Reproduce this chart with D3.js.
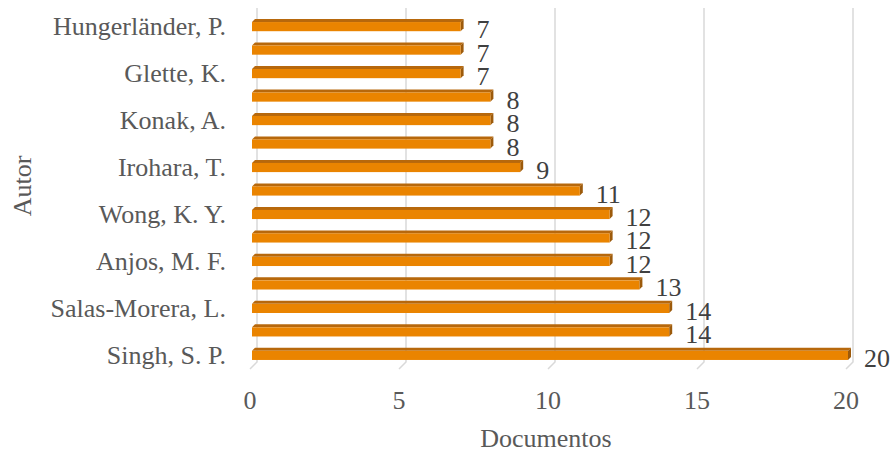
<!DOCTYPE html>
<html>
<head>
<meta charset="utf-8">
<script src="https://cdn.jsdelivr.net/npm/d3@7"></script>
<style>
  body { margin: 0; background: #fff; }
  svg text { font-family: "Liberation Serif", "Times New Roman", serif; }
</style>
</head>
<body>
<svg id="chart" width="894" height="454"></svg>
<script>
// authors, top to bottom (Excel skips every other label)
const authors = ["Hungerländer, P.", "", "Glette, K.", "", "Konak, A.", "", "Irohara, T.", "",
    "Wong, K. Y.", "", "Anjos, M. F.", "", "Salas-Morera, L.", "", "Singh, S. P."];
const documents = [7, 7, 7, 8, 8, 8, 9, 11, 12, 12, 12, 13, 14, 14, 20];
const xTicks = [0, 5, 10, 15, 20];

const margin = {top: 15, bottom: 87, left: 252, right: 46};
const W = 894, H = 454;
const depth = 7;      // 3D wall offset
const barDepth = 3;   // bar thickness
const fontSize = 26;

let svg = d3.select("#chart");

let x = d3.scaleLinear()
    .domain([0, 20])
    .range([margin.left, W - margin.right]);

let y = d3.scaleBand()
    .domain(d3.range(authors.length))
    .range([margin.top, H - margin.bottom])
    .paddingInner(0.61)
    .paddingOuter(0.3);

const floorY = H - margin.bottom + 2;

// gridlines on the back wall, with a small foot on the floor
let grid = svg.append("g");
grid.selectAll("path")
    .data(xTicks)
    .enter()
    .append("path")
    .attr("d", function(d){
        let bx = x(d) + depth - 2;
        return "M" + bx + ",8 L" + bx + "," + (floorY - depth) + " L" + (x(d) - 2) + "," + floorY;
    })
    .attr("fill", "none")
    .attr("stroke", "#d9d9d9")
    .attr("stroke-width", 1.5);

// bars: top face, right face, front face
let bars = svg.append("g").selectAll("g")
    .data(documents)
    .enter()
    .append("g");

bars.append("path")
    .attr("d", function(d, i){
        let x0 = x(0), x1 = x(d), yt = y(i);
        return "M" + x0 + "," + yt + " L" + (x0 + barDepth) + "," + (yt - barDepth) +
            " L" + (x1 + barDepth) + "," + (yt - barDepth) + " L" + x1 + "," + yt + "Z";
    })
    .attr("fill", "#b7680c");

bars.append("path")
    .attr("d", function(d, i){
        let x1 = x(d), yt = y(i), yb = y(i) + y.bandwidth();
        return "M" + x1 + "," + yt + " L" + (x1 + barDepth) + "," + (yt - barDepth) +
            " L" + (x1 + barDepth) + "," + (yb - barDepth) + " L" + x1 + "," + yb + "Z";
    })
    .attr("fill", "#9c5a0b");

bars.append("rect")
    .attr("x", x(0))
    .attr("y", function(d, i){ return y(i); })
    .attr("width", function(d){ return x(d) - x(0); })
    .attr("height", y.bandwidth())
    .attr("fill", "#ea8400");

// value labels
svg.append("g").selectAll("text")
    .data(documents)
    .enter()
    .append("text")
    .attr("x", function(d){ return x(d) + 16; })
    .attr("y", function(d, i){ return y(i) + y.bandwidth() / 2 + 11.5; })
    .attr("font-size", fontSize)
    .attr("fill", "#404040")
    .text(function(d){ return d; });

// category labels
svg.append("g").selectAll("text")
    .data(authors)
    .enter()
    .append("text")
    .attr("x", 226)
    .attr("y", function(d, i){ return y(i) + y.bandwidth() / 2 + 8.5; })
    .attr("text-anchor", "end")
    .attr("font-size", fontSize)
    .attr("fill", "#595959")
    .text(function(d){ return d; });

// x tick labels
svg.append("g").selectAll("text")
    .data(xTicks)
    .enter()
    .append("text")
    .attr("x", function(d){ return x(d) - 2; })
    .attr("y", 409)
    .attr("text-anchor", "middle")
    .attr("font-size", fontSize)
    .attr("fill", "#595959")
    .text(function(d){ return d; });

// axis titles
svg.append("text")
    .attr("x", 546)
    .attr("y", 447)
    .attr("text-anchor", "middle")
    .attr("font-size", fontSize)
    .attr("fill", "#595959")
    .text("Documentos");

svg.append("text")
    .attr("transform", "translate(31,186) rotate(-90)")
    .attr("text-anchor", "middle")
    .attr("font-size", fontSize)
    .attr("fill", "#595959")
    .text("Autor");
</script>
</body>
</html>
